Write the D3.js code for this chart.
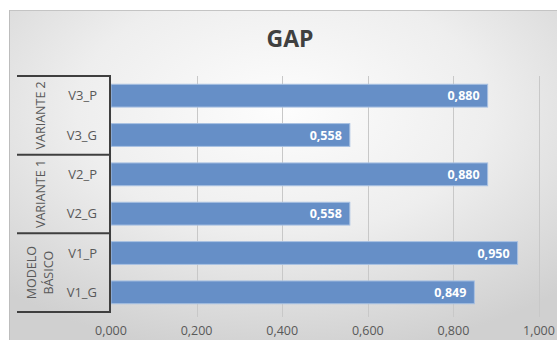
<!DOCTYPE html>
<html>
<head>
<meta charset="utf-8">
<script src="https://cdn.jsdelivr.net/npm/d3@7/dist/d3.min.js"></script>
<style>
  html, body { margin: 0; padding: 0; background: #ffffff; }
  svg { display: block; }
  text { font-family: "Open Sans", "Noto Sans", sans-serif; }
</style>
</head>
<body>
<svg id="chart" width="557" height="340"></svg>
<script>
// Categories, top to bottom
const categories = ["V3_P", "V3_G", "V2_P", "V2_G", "V1_P", "V1_G"];
const values = [0.880, 0.558, 0.880, 0.558, 0.950, 0.849];
// Group labels with the categories they span
const groupNames = [["VARIANTE 2"], ["VARIANTE 1"], ["MODELO", "BÁSICO"]];
const groupMembers = [["V3_P", "V3_G"], ["V2_P", "V2_G"], ["V1_P", "V1_G"]];
const xTicks = [0, 0.2, 0.4, 0.6, 0.8, 1.0];
const title = "GAP";

const svg = d3.select("#chart");
const W = 557, H = 340;
const frame = { left: 9, top: 10 };
const plot = { left: 111, right: 539, top: 76, bottom: 312 };

// Background panel with soft radial shading
const defs = svg.append("defs");
const grad = defs.append("radialGradient")
  .attr("id", "bg").attr("cx", "50%").attr("cy", "30%").attr("r", "75%");
grad.append("stop").attr("offset", "0%").attr("stop-color", "#fdfdfd");
grad.append("stop").attr("offset", "50%").attr("stop-color", "#eeeeee");
grad.append("stop").attr("offset", "100%").attr("stop-color", "#d0d0d0");

svg.append("rect").attr("x", frame.left).attr("y", frame.top)
  .attr("width", W - frame.left).attr("height", H - frame.top)
  .attr("fill", "url(#bg)");
svg.append("line").attr("x1", frame.left).attr("x2", W)
  .attr("y1", frame.top + 0.5).attr("y2", frame.top + 0.5)
  .attr("stroke", "#c4c4c4").attr("stroke-width", 1);
svg.append("line").attr("x1", frame.left + 0.5).attr("x2", frame.left + 0.5)
  .attr("y1", frame.top).attr("y2", H)
  .attr("stroke", "#bdbdbd").attr("stroke-width", 1);

const x = d3.scaleLinear().domain([0, 1]).range([plot.left, plot.right]);
const y = d3.scaleBand().domain(categories).range([plot.top, plot.bottom]).paddingInner(0.42).paddingOuter(0.21);

// Vertical gridlines
svg.append("g").selectAll("line").data(xTicks.slice(1)).join("line")
  .attr("x1", d => Math.round(x(d)) + 0.5).attr("x2", d => Math.round(x(d)) + 0.5)
  .attr("y1", plot.top).attr("y2", plot.bottom + 5)
  .attr("stroke", "#c8c8c8").attr("stroke-width", 1);

// X axis tick labels
const fmt = d => d3.format(".3f")(d).replace(".", ",");
svg.append("g").selectAll("text").data(xTicks).join("text")
  .attr("x", d => x(d)).attr("y", 335)
  .attr("text-anchor", "middle")
  .attr("font-size", 12.5).attr("fill", "#595959")
  .text(fmt);

// Bars
svg.append("g").selectAll("rect").data(categories).join("rect")
  .attr("x", x(0)).attr("y", (d) => y(d))
  .attr("width", (d, i) => x(values[i]) - x(0))
  .attr("height", y.bandwidth())
  .attr("fill", "#668fc7")
  .attr("stroke", "#a9c1e2").attr("stroke-width", 1);

// Value labels inside bar ends
svg.append("g").selectAll("text").data(categories).join("text")
  .attr("x", (d, i) => x(values[i]) - 8)
  .attr("y", d => y(d) + y.bandwidth() / 2 + 4.5)
  .attr("text-anchor", "end")
  .attr("font-size", 12.5).attr("font-weight", "bold").attr("fill", "#ffffff")
  .text((d, i) => fmt(values[i]));

// Category labels
svg.append("g").selectAll("text").data(categories).join("text")
  .attr("x", 97).attr("y", d => y(d) + y.bandwidth() / 2 + 4.5)
  .attr("text-anchor", "end")
  .attr("font-size", 13).attr("fill", "#595959")
  .text(d => d);

// Multi-level axis: separators and group labels
const step = y.step();
const groupTop = (g) => y(g[0]) - y.paddingOuter() * step;
const groupBottom = (g) => groupTop(g) + g.length * step;
const axisG = svg.append("g").attr("stroke", "#3f3f3f").attr("stroke-width", 2);
const bounds = [groupTop(groupMembers[0])].concat(groupMembers.map(groupBottom));
axisG.selectAll("line.sep").data(bounds).join("line")
  .attr("x1", 17).attr("x2", plot.left - 1)
  .attr("y1", d => d).attr("y2", d => d);
axisG.append("line")
  .attr("x1", plot.left - 1).attr("x2", plot.left - 1)
  .attr("y1", bounds[0] - 1).attr("y2", bounds[bounds.length - 1] + 1);

groupNames.forEach((lines, gi) => {
  const cy = (groupTop(groupMembers[gi]) + groupBottom(groupMembers[gi])) / 2;
  const n = lines.length;
  lines.forEach((ln, li) => {
    const cx = 40 + (li - (n - 1) / 2) * 17;
    svg.append("text")
      .attr("transform", `translate(${cx + 4.5},${cy}) rotate(-90)`)
      .attr("text-anchor", "middle")
      .attr("font-size", 12.5).attr("fill", "#595959")
      .text(ln);
  });
});

// Title
svg.append("text").attr("x", 290).attr("y", 47)
  .attr("text-anchor", "middle")
  .attr("font-size", 23).attr("font-weight", "bold").attr("fill", "#404040")
  .text(title);
</script>
</body>
</html>
